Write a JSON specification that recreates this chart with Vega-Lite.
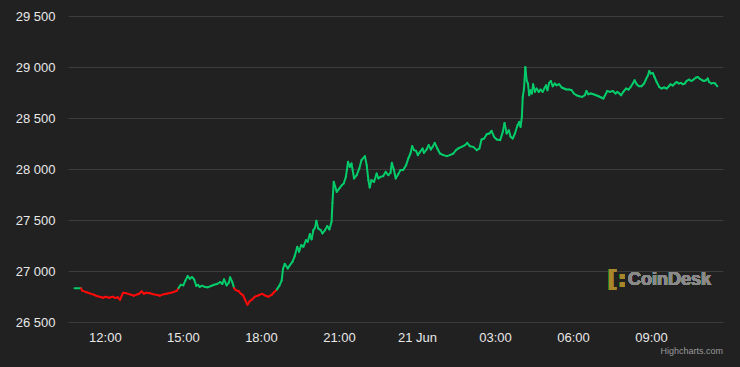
{
  "$schema": "https://vega.github.io/schema/vega-lite/v6.json",
  "width": 655,
  "height": 306,
  "autosize": "none",
  "padding": {"left": 68, "top": 16, "right": 17, "bottom": 45},
  "background": "#212121",
  "config": {
    "view": {"stroke": null},
    "font": "Liberation Sans",
    "axis": {"labelFont": "Liberation Sans", "labelFontSize": 13, "labelColor": "#e8e8e8"}
  },
  "title": {"text": "Highcharts.com", "orient": "bottom", "anchor": "end", "fontSize": 9, "fontWeight": "normal", "color": "#9a9a9a", "offset": 3, "font": "Liberation Sans"},
  "data": {
    "format": {"parse": {"t": "date"}},
    "values": [
      {"t": "2023-06-20T10:50", "v": 26832},
      {"t": "2023-06-20T11:05", "v": 26830},
      {"t": "2023-06-20T11:08", "v": 26807},
      {"t": "2023-06-20T11:18", "v": 26791},
      {"t": "2023-06-20T11:25", "v": 26781},
      {"t": "2023-06-20T11:35", "v": 26767},
      {"t": "2023-06-20T11:41", "v": 26755},
      {"t": "2023-06-20T11:48", "v": 26748},
      {"t": "2023-06-20T11:56", "v": 26738},
      {"t": "2023-06-20T12:02", "v": 26748},
      {"t": "2023-06-20T12:10", "v": 26738},
      {"t": "2023-06-20T12:18", "v": 26748},
      {"t": "2023-06-20T12:24", "v": 26735},
      {"t": "2023-06-20T12:30", "v": 26742},
      {"t": "2023-06-20T12:35", "v": 26718},
      {"t": "2023-06-20T12:42", "v": 26787},
      {"t": "2023-06-20T12:50", "v": 26781},
      {"t": "2023-06-20T12:58", "v": 26771},
      {"t": "2023-06-20T13:07", "v": 26758},
      {"t": "2023-06-20T13:15", "v": 26771},
      {"t": "2023-06-20T13:19", "v": 26777},
      {"t": "2023-06-20T13:25", "v": 26801},
      {"t": "2023-06-20T13:30", "v": 26777},
      {"t": "2023-06-20T13:36", "v": 26787},
      {"t": "2023-06-20T13:44", "v": 26781},
      {"t": "2023-06-20T13:53", "v": 26771},
      {"t": "2023-06-20T14:01", "v": 26764},
      {"t": "2023-06-20T14:07", "v": 26758},
      {"t": "2023-06-20T14:15", "v": 26771},
      {"t": "2023-06-20T14:22", "v": 26777},
      {"t": "2023-06-20T14:30", "v": 26784},
      {"t": "2023-06-20T14:39", "v": 26794},
      {"t": "2023-06-20T14:46", "v": 26807},
      {"t": "2023-06-20T14:50", "v": 26833},
      {"t": "2023-06-20T14:55", "v": 26865},
      {"t": "2023-06-20T15:01", "v": 26859},
      {"t": "2023-06-20T15:06", "v": 26908},
      {"t": "2023-06-20T15:11", "v": 26950},
      {"t": "2023-06-20T15:16", "v": 26924},
      {"t": "2023-06-20T15:21", "v": 26941},
      {"t": "2023-06-20T15:26", "v": 26918},
      {"t": "2023-06-20T15:31", "v": 26853},
      {"t": "2023-06-20T15:35", "v": 26865},
      {"t": "2023-06-20T15:39", "v": 26843},
      {"t": "2023-06-20T15:44", "v": 26856},
      {"t": "2023-06-20T15:51", "v": 26843},
      {"t": "2023-06-20T15:57", "v": 26840},
      {"t": "2023-06-20T16:05", "v": 26853},
      {"t": "2023-06-20T16:12", "v": 26865},
      {"t": "2023-06-20T16:20", "v": 26875},
      {"t": "2023-06-20T16:26", "v": 26892},
      {"t": "2023-06-20T16:31", "v": 26872},
      {"t": "2023-06-20T16:35", "v": 26918},
      {"t": "2023-06-20T16:41", "v": 26859},
      {"t": "2023-06-20T16:46", "v": 26885},
      {"t": "2023-06-20T16:49", "v": 26938},
      {"t": "2023-06-20T16:54", "v": 26892},
      {"t": "2023-06-20T16:58", "v": 26833},
      {"t": "2023-06-20T17:02", "v": 26813},
      {"t": "2023-06-20T17:09", "v": 26801},
      {"t": "2023-06-20T17:14", "v": 26777},
      {"t": "2023-06-20T17:19", "v": 26761},
      {"t": "2023-06-20T17:23", "v": 26722},
      {"t": "2023-06-20T17:29", "v": 26669},
      {"t": "2023-06-20T17:34", "v": 26703},
      {"t": "2023-06-20T17:40", "v": 26722},
      {"t": "2023-06-20T17:46", "v": 26748},
      {"t": "2023-06-20T17:54", "v": 26761},
      {"t": "2023-06-20T18:03", "v": 26777},
      {"t": "2023-06-20T18:09", "v": 26761},
      {"t": "2023-06-20T18:17", "v": 26748},
      {"t": "2023-06-20T18:25", "v": 26767},
      {"t": "2023-06-20T18:31", "v": 26794},
      {"t": "2023-06-20T18:37", "v": 26820},
      {"t": "2023-06-20T18:43", "v": 26859},
      {"t": "2023-06-20T18:48", "v": 26908},
      {"t": "2023-06-20T18:51", "v": 27022},
      {"t": "2023-06-20T18:55", "v": 27071},
      {"t": "2023-06-20T19:02", "v": 27026},
      {"t": "2023-06-20T19:07", "v": 27058},
      {"t": "2023-06-20T19:13", "v": 27091},
      {"t": "2023-06-20T19:18", "v": 27146},
      {"t": "2023-06-20T19:24", "v": 27237},
      {"t": "2023-06-20T19:28", "v": 27189},
      {"t": "2023-06-20T19:33", "v": 27254},
      {"t": "2023-06-20T19:38", "v": 27237},
      {"t": "2023-06-20T19:44", "v": 27303},
      {"t": "2023-06-20T19:48", "v": 27286},
      {"t": "2023-06-20T19:53", "v": 27362},
      {"t": "2023-06-20T19:57", "v": 27310},
      {"t": "2023-06-20T20:01", "v": 27401},
      {"t": "2023-06-20T20:05", "v": 27427},
      {"t": "2023-06-20T20:08", "v": 27492},
      {"t": "2023-06-20T20:12", "v": 27418},
      {"t": "2023-06-20T20:18", "v": 27401},
      {"t": "2023-06-20T20:22", "v": 27369},
      {"t": "2023-06-20T20:28", "v": 27401},
      {"t": "2023-06-20T20:33", "v": 27440},
      {"t": "2023-06-20T20:38", "v": 27408},
      {"t": "2023-06-20T20:43", "v": 27482},
      {"t": "2023-06-20T20:45", "v": 27663},
      {"t": "2023-06-20T20:48", "v": 27874},
      {"t": "2023-06-20T20:55", "v": 27776},
      {"t": "2023-06-20T21:01", "v": 27809},
      {"t": "2023-06-20T21:07", "v": 27842},
      {"t": "2023-06-20T21:11", "v": 27858},
      {"t": "2023-06-20T21:16", "v": 27923},
      {"t": "2023-06-20T21:21", "v": 28070},
      {"t": "2023-06-20T21:25", "v": 28021},
      {"t": "2023-06-20T21:29", "v": 28054},
      {"t": "2023-06-20T21:35", "v": 27907},
      {"t": "2023-06-20T21:41", "v": 27940},
      {"t": "2023-06-20T21:47", "v": 28005},
      {"t": "2023-06-20T21:52", "v": 28087},
      {"t": "2023-06-20T22:00", "v": 28126},
      {"t": "2023-06-20T22:04", "v": 28038},
      {"t": "2023-06-20T22:08", "v": 27891},
      {"t": "2023-06-20T22:11", "v": 27819},
      {"t": "2023-06-20T22:15", "v": 27891},
      {"t": "2023-06-20T22:21", "v": 27874},
      {"t": "2023-06-20T22:27", "v": 27956},
      {"t": "2023-06-20T22:31", "v": 27907},
      {"t": "2023-06-20T22:36", "v": 27923},
      {"t": "2023-06-20T22:42", "v": 27930},
      {"t": "2023-06-20T22:48", "v": 27972},
      {"t": "2023-06-20T22:54", "v": 27940},
      {"t": "2023-06-20T22:59", "v": 27962},
      {"t": "2023-06-20T23:02", "v": 28060},
      {"t": "2023-06-20T23:07", "v": 27989},
      {"t": "2023-06-20T23:11", "v": 27907},
      {"t": "2023-06-20T23:17", "v": 27950},
      {"t": "2023-06-20T23:22", "v": 27989},
      {"t": "2023-06-20T23:28", "v": 27989},
      {"t": "2023-06-20T23:35", "v": 28038},
      {"t": "2023-06-20T23:40", "v": 28103},
      {"t": "2023-06-20T23:45", "v": 28152},
      {"t": "2023-06-20T23:49", "v": 28224},
      {"t": "2023-06-20T23:53", "v": 28185},
      {"t": "2023-06-20T23:58", "v": 28178},
      {"t": "2023-06-21T00:02", "v": 28136},
      {"t": "2023-06-21T00:07", "v": 28168},
      {"t": "2023-06-21T00:13", "v": 28201},
      {"t": "2023-06-21T00:16", "v": 28158},
      {"t": "2023-06-21T00:22", "v": 28191},
      {"t": "2023-06-21T00:27", "v": 28234},
      {"t": "2023-06-21T00:32", "v": 28191},
      {"t": "2023-06-21T00:36", "v": 28217},
      {"t": "2023-06-21T00:41", "v": 28256},
      {"t": "2023-06-21T00:47", "v": 28201},
      {"t": "2023-06-21T00:53", "v": 28152},
      {"t": "2023-06-21T01:01", "v": 28136},
      {"t": "2023-06-21T01:09", "v": 28126},
      {"t": "2023-06-21T01:16", "v": 28136},
      {"t": "2023-06-21T01:24", "v": 28152},
      {"t": "2023-06-21T01:30", "v": 28185},
      {"t": "2023-06-21T01:35", "v": 28201},
      {"t": "2023-06-21T01:43", "v": 28217},
      {"t": "2023-06-21T01:51", "v": 28234},
      {"t": "2023-06-21T01:56", "v": 28256},
      {"t": "2023-06-21T02:02", "v": 28224},
      {"t": "2023-06-21T02:10", "v": 28217},
      {"t": "2023-06-21T02:18", "v": 28185},
      {"t": "2023-06-21T02:24", "v": 28201},
      {"t": "2023-06-21T02:29", "v": 28289},
      {"t": "2023-06-21T02:35", "v": 28299},
      {"t": "2023-06-21T02:41", "v": 28341},
      {"t": "2023-06-21T02:47", "v": 28348},
      {"t": "2023-06-21T02:52", "v": 28374},
      {"t": "2023-06-21T02:58", "v": 28315},
      {"t": "2023-06-21T03:04", "v": 28289},
      {"t": "2023-06-21T03:12", "v": 28283},
      {"t": "2023-06-21T03:18", "v": 28364},
      {"t": "2023-06-21T03:22", "v": 28452},
      {"t": "2023-06-21T03:27", "v": 28348},
      {"t": "2023-06-21T03:32", "v": 28380},
      {"t": "2023-06-21T03:36", "v": 28315},
      {"t": "2023-06-21T03:41", "v": 28299},
      {"t": "2023-06-21T03:46", "v": 28348},
      {"t": "2023-06-21T03:52", "v": 28429},
      {"t": "2023-06-21T03:56", "v": 28462},
      {"t": "2023-06-21T03:59", "v": 28413},
      {"t": "2023-06-21T04:02", "v": 28511},
      {"t": "2023-06-21T04:04", "v": 28704},
      {"t": "2023-06-21T04:07", "v": 28789},
      {"t": "2023-06-21T04:10", "v": 29000},
      {"t": "2023-06-21T04:13", "v": 28870},
      {"t": "2023-06-21T04:16", "v": 28838},
      {"t": "2023-06-21T04:19", "v": 28723},
      {"t": "2023-06-21T04:22", "v": 28772},
      {"t": "2023-06-21T04:25", "v": 28740},
      {"t": "2023-06-21T04:28", "v": 28831},
      {"t": "2023-06-21T04:32", "v": 28756},
      {"t": "2023-06-21T04:36", "v": 28789},
      {"t": "2023-06-21T04:41", "v": 28756},
      {"t": "2023-06-21T04:45", "v": 28779},
      {"t": "2023-06-21T04:50", "v": 28756},
      {"t": "2023-06-21T04:55", "v": 28799},
      {"t": "2023-06-21T04:58", "v": 28821},
      {"t": "2023-06-21T05:01", "v": 28772},
      {"t": "2023-06-21T05:05", "v": 28844},
      {"t": "2023-06-21T05:09", "v": 28863},
      {"t": "2023-06-21T05:13", "v": 28811},
      {"t": "2023-06-21T05:18", "v": 28838},
      {"t": "2023-06-21T05:22", "v": 28821},
      {"t": "2023-06-21T05:28", "v": 28831},
      {"t": "2023-06-21T05:34", "v": 28799},
      {"t": "2023-06-21T05:39", "v": 28789},
      {"t": "2023-06-21T05:45", "v": 28779},
      {"t": "2023-06-21T05:51", "v": 28779},
      {"t": "2023-06-21T05:57", "v": 28772},
      {"t": "2023-06-21T06:02", "v": 28740},
      {"t": "2023-06-21T06:08", "v": 28723},
      {"t": "2023-06-21T06:14", "v": 28713},
      {"t": "2023-06-21T06:21", "v": 28707},
      {"t": "2023-06-21T06:27", "v": 28723},
      {"t": "2023-06-21T06:31", "v": 28765},
      {"t": "2023-06-21T06:35", "v": 28733},
      {"t": "2023-06-21T06:41", "v": 28740},
      {"t": "2023-06-21T06:47", "v": 28733},
      {"t": "2023-06-21T06:53", "v": 28723},
      {"t": "2023-06-21T06:59", "v": 28713},
      {"t": "2023-06-21T07:05", "v": 28701},
      {"t": "2023-06-21T07:10", "v": 28691},
      {"t": "2023-06-21T07:14", "v": 28723},
      {"t": "2023-06-21T07:19", "v": 28765},
      {"t": "2023-06-21T07:25", "v": 28756},
      {"t": "2023-06-21T07:32", "v": 28765},
      {"t": "2023-06-21T07:38", "v": 28740},
      {"t": "2023-06-21T07:42", "v": 28756},
      {"t": "2023-06-21T07:47", "v": 28740},
      {"t": "2023-06-21T07:51", "v": 28723},
      {"t": "2023-06-21T07:56", "v": 28756},
      {"t": "2023-06-21T08:02", "v": 28789},
      {"t": "2023-06-21T08:08", "v": 28779},
      {"t": "2023-06-21T08:14", "v": 28811},
      {"t": "2023-06-21T08:19", "v": 28844},
      {"t": "2023-06-21T08:22", "v": 28870},
      {"t": "2023-06-21T08:27", "v": 28831},
      {"t": "2023-06-21T08:32", "v": 28811},
      {"t": "2023-06-21T08:38", "v": 28811},
      {"t": "2023-06-21T08:44", "v": 28838},
      {"t": "2023-06-21T08:48", "v": 28877},
      {"t": "2023-06-21T08:53", "v": 28919},
      {"t": "2023-06-21T08:56", "v": 28961},
      {"t": "2023-06-21T08:59", "v": 28936},
      {"t": "2023-06-21T09:04", "v": 28942},
      {"t": "2023-06-21T09:08", "v": 28902},
      {"t": "2023-06-21T09:13", "v": 28853},
      {"t": "2023-06-21T09:19", "v": 28804},
      {"t": "2023-06-21T09:24", "v": 28789},
      {"t": "2023-06-21T09:30", "v": 28799},
      {"t": "2023-06-21T09:36", "v": 28789},
      {"t": "2023-06-21T09:41", "v": 28811},
      {"t": "2023-06-21T09:45", "v": 28831},
      {"t": "2023-06-21T09:50", "v": 28818},
      {"t": "2023-06-21T09:55", "v": 28838},
      {"t": "2023-06-21T09:59", "v": 28853},
      {"t": "2023-06-21T10:04", "v": 28838},
      {"t": "2023-06-21T10:09", "v": 28844},
      {"t": "2023-06-21T10:13", "v": 28831},
      {"t": "2023-06-21T10:18", "v": 28838},
      {"t": "2023-06-21T10:22", "v": 28863},
      {"t": "2023-06-21T10:28", "v": 28877},
      {"t": "2023-06-21T10:33", "v": 28863},
      {"t": "2023-06-21T10:38", "v": 28877},
      {"t": "2023-06-21T10:44", "v": 28897},
      {"t": "2023-06-21T10:48", "v": 28902},
      {"t": "2023-06-21T10:53", "v": 28883},
      {"t": "2023-06-21T10:58", "v": 28870},
      {"t": "2023-06-21T11:02", "v": 28863},
      {"t": "2023-06-21T11:07", "v": 28870},
      {"t": "2023-06-21T11:11", "v": 28887},
      {"t": "2023-06-21T11:14", "v": 28853},
      {"t": "2023-06-21T11:19", "v": 28838},
      {"t": "2023-06-21T11:24", "v": 28844},
      {"t": "2023-06-21T11:28", "v": 28838},
      {"t": "2023-06-21T11:33", "v": 28811}
    ]
  },
  "layer": [
    {
      "transform": [
        {"window": [{"op": "lead", "field": "t", "as": "t2"}, {"op": "lead", "field": "v", "as": "v2"}], "sort": [{"field": "t", "order": "ascending"}]},
        {"filter": "datum.t2 != null"}
      ],
      "mark": {"type": "rule", "strokeWidth": 2, "strokeCap": "round"},
      "encoding": {
        "x": {
          "field": "t", "type": "temporal",
          "scale": {"domain": [{"year": 2023, "month": 6, "date": 20, "hours": 10, "minutes": 35}, {"year": 2023, "month": 6, "date": 21, "hours": 11, "minutes": 46}]},
          "axis": {
            "title": null, "grid": false, "domain": false, "ticks": false, "labelPadding": 9,
            "values": [
              {"year": 2023, "month": 6, "date": 20, "hours": 12},
              {"year": 2023, "month": 6, "date": 20, "hours": 15},
              {"year": 2023, "month": 6, "date": 20, "hours": 18},
              {"year": 2023, "month": 6, "date": 20, "hours": 21},
              {"year": 2023, "month": 6, "date": 21, "hours": 0},
              {"year": 2023, "month": 6, "date": 21, "hours": 3},
              {"year": 2023, "month": 6, "date": 21, "hours": 6},
              {"year": 2023, "month": 6, "date": 21, "hours": 9}
            ],
            "labelExpr": "hours(datum.value) == 0 ? timeFormat(datum.value, '%d %b') : timeFormat(datum.value, '%H:%M')"
          }
        },
        "y": {
          "field": "v", "type": "quantitative",
          "scale": {"domain": [26500, 29500], "nice": false, "zero": false},
          "axis": {
            "title": null, "domain": false, "ticks": false, "labelPadding": 13,
            "values": [26500, 27000, 27500, 28000, 28500, 29000, 29500],
            "gridColor": "#3c3c3c", "gridWidth": 1,
            "labelExpr": "replace(format(datum.value, ','), ',', ' ')"
          }
        },
        "x2": {"field": "t2"},
        "y2": {"field": "v2"},
        "color": {"condition": {"test": "(datum.v + datum.v2) / 2 >= 26828", "value": "#05cc6a"}, "value": "#ff0a0a"}
      }
    },
    {
      "mark": {"type": "text", "text": "CoinDesk", "align": "left", "baseline": "middle", "fontSize": 18, "fontWeight": "bold", "color": "#8a8a8a", "font": "Liberation Sans"},
      "encoding": {
        "x": {"datum": {"year": 2023, "month": 6, "date": 21, "hours": 8, "minutes": 7}, "type": "temporal"},
        "y": {"datum": 26908, "type": "quantitative"}
      }
    },
    {
      "mark": {"type": "text", "text": "[:", "align": "right", "baseline": "middle", "fontSize": 23, "fontWeight": "bold", "color": "#a8862a", "font": "DejaVu Sans"},
      "encoding": {
        "x": {"datum": {"year": 2023, "month": 6, "date": 21, "hours": 8, "minutes": 4}, "type": "temporal"},
        "y": {"datum": 26908, "type": "quantitative"}
      }
    }
  ]
}
